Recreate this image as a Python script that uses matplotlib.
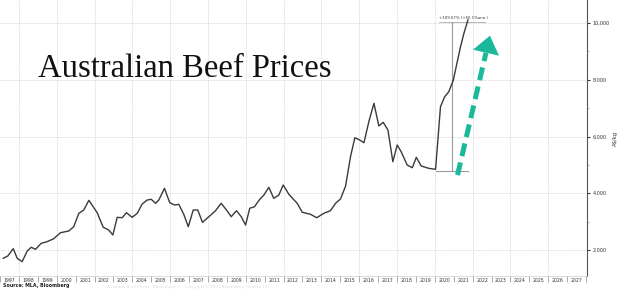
import matplotlib
matplotlib.use("Agg")
import matplotlib.pyplot as plt
from matplotlib.patches import FancyArrowPatch
import numpy as np

# Australian beef price series (decimal year, value)
dates = [1997.17, 1997.41, 1997.70, 1997.91, 1998.17, 1998.44, 1998.65, 1998.88,
         1999.18, 1999.49, 1999.84, 2000.20, 2000.64, 2000.90, 2001.17, 2001.43,
         2001.70, 2002.14, 2002.46, 2002.75, 2002.97, 2003.20, 2003.46, 2003.69,
         2003.99, 2004.26, 2004.52, 2004.79, 2005.00, 2005.23, 2005.40, 2005.70,
         2005.98, 2006.23, 2006.46, 2006.72, 2006.96, 2007.22, 2007.46, 2007.71,
         2008.05, 2008.40, 2008.70, 2008.98, 2009.23, 2009.51, 2009.76, 2009.99,
         2010.21, 2010.46, 2010.74, 2010.96, 2011.22, 2011.48, 2011.75, 2011.98,
         2012.28, 2012.72, 2012.99, 2013.43, 2013.75, 2014.13, 2014.48, 2014.75,
         2015.01, 2015.28, 2015.54, 2015.77, 2016.03, 2016.25, 2016.51, 2016.78,
         2017.04, 2017.27, 2017.52, 2017.78, 2018.01, 2018.22, 2018.54, 2018.81,
         2019.02, 2019.28, 2019.68, 2020.04, 2020.30, 2020.52, 2020.74, 2020.98,
         2021.15, 2021.36, 2021.54, 2021.75]
prices = [1708, 1789, 2046, 1708, 1588, 1965, 2095, 2025,
          2236, 2292, 2398, 2610, 2670, 2821, 3293, 3410,
          3751, 3314, 2800, 2705, 2529, 3152, 3138, 3314,
          3152, 3293, 3621, 3762, 3787, 3646, 3762, 4174,
          3667, 3586, 3610, 3258, 2821, 3410, 3410, 2976,
          3174, 3385, 3646, 3410, 3174, 3385, 3174, 2881,
          3470, 3526, 3787, 3938, 4210, 3822, 3938, 4291,
          3963, 3646, 3329, 3258, 3138, 3293, 3385, 3646,
          3797, 4255, 5288, 5957, 5876, 5781, 6521, 7170,
          6370, 6500, 6229, 5112, 5700, 5464, 4995, 4900,
          5267, 4960, 4879, 4844, 7050, 7402, 7578, 7990,
          8519, 9164, 9637, 10105]

years = list(range(1997, 2028))
year_labels = [str(y) for y in years]
ytick_vals = [2000, 4000, 6000, 8000, 10000]

# change measurement
base_level = 4794
base_start, base_end = 2020.04, 2021.78
measure_x = 2020.92
measure_top = 10035
measure_text = "+109.67% (+56.1%ann.)"

# arrow
arrow_start = (2021.20, 4640)
arrow_tip = (2022.95, 9650)

fig = plt.figure(figsize=(6.2, 2.89), dpi=100)
ax = fig.add_axes([0.0, 13 / 289, 587 / 620, 276 / 289])

ax.plot(dates, prices, color="#3a3a3a", lw=1.0, zorder=3)

ax.set_xlim(1997.0, 2028.05)
ax.set_ylim(1084, 10811)

# x axis: year boundaries as ticks, labels centred in each year
ax.set_xticks(years + [2028])
ax.set_xticklabels([])
ax.set_xticks([y + 0.5 for y in years], minor=True)
ax.set_xticklabels(year_labels, minor=True, fontsize=3.3, color="#333333")
ax.tick_params(axis="x", which="major", length=4, width=0.5, color="#888888", direction="out")
ax.tick_params(axis="x", which="minor", length=0, pad=1.2)

# y axis on the right
ax.yaxis.tick_right()
ax.yaxis.set_label_position("right")
ax.set_yticks(ytick_vals)
ax.set_yticklabels([f"{v:,}" for v in ytick_vals], fontsize=3.5, color="#333333")
ax.set_yticks(np.arange(2000, 11000, 1000), minor=True)
ax.tick_params(axis="y", which="major", length=2.5, width=0.8, color="#333333", pad=1.5)
ax.tick_params(axis="y", which="minor", length=1.2, width=0.5, color="#999999")
ax.set_ylabel("A$/kg", fontsize=3.8, color="#333333", labelpad=2)

# grid
for v in ytick_vals:
    ax.axhline(v, color="#dddddd", lw=0.6, ls=(0, (2, 1)), zorder=0)
for y in range(1998, 2028, 2):
    ax.axvline(y, color="#dddddd", lw=0.6, ls=(0, (2, 1)), zorder=0)

for s in ["top", "left"]:
    ax.spines[s].set_visible(False)
ax.spines["right"].set_color("#555555")
ax.spines["right"].set_linewidth(0.8)
ax.spines["bottom"].set_color("#cccccc")
ax.spines["bottom"].set_linewidth(0.5)

# measurement lines
ax.plot([base_start, base_end], [base_level, base_level], color="#9a9a9a", lw=0.8, zorder=2)
ax.plot([measure_x, measure_x], [base_level, measure_top], color="#9a9a9a", lw=0.8, zorder=2)
ax.plot([2020.20, 2022.63], [measure_top, measure_top], color="#9a9a9a", lw=0.5, zorder=2)
ax.text(2020.20, measure_top + 60, measure_text, fontsize=2.8, color="#333333",
        ha="left", va="bottom")

# green dashed arrow
teal = "#1ab99a"
frac = 0.86
mid = (arrow_start[0] + frac * (arrow_tip[0] - arrow_start[0]),
       arrow_start[1] + frac * (arrow_tip[1] - arrow_start[1]))
ax.plot([arrow_start[0], mid[0]], [arrow_start[1], mid[1]], color=teal, lw=3.6,
        ls=(0, (2.6, 1.3)), solid_capstyle="butt", zorder=4)
head = FancyArrowPatch(mid, arrow_tip, arrowstyle="-|>,head_width=3.2,head_length=4.2",
                       color=teal, lw=0, mutation_scale=3, zorder=5)
ax.add_patch(head)

# title and footer
fig.text(38 / 620, 1 - 77 / 289, "Australian Beef Prices", family="Liberation Serif",
         fontsize=23.5, color="#111111", ha="left", va="baseline")
fig.text(3 / 620, 1 - 286 / 289, "Source: MLA, Bloomberg", fontsize=3.4,
         fontweight="bold", color="#222222", ha="left", va="center")
fig.text(107 / 620, 1 - 287 / 289,
         "Australia Beef Prices   Bloomberg \u00ae   Copyright\u00a9 2021 Bloomberg Finance L.P.",
         fontsize=3.0, color="#dddddd", ha="left", va="center")

fig.savefig("out.png", dpi=100)
